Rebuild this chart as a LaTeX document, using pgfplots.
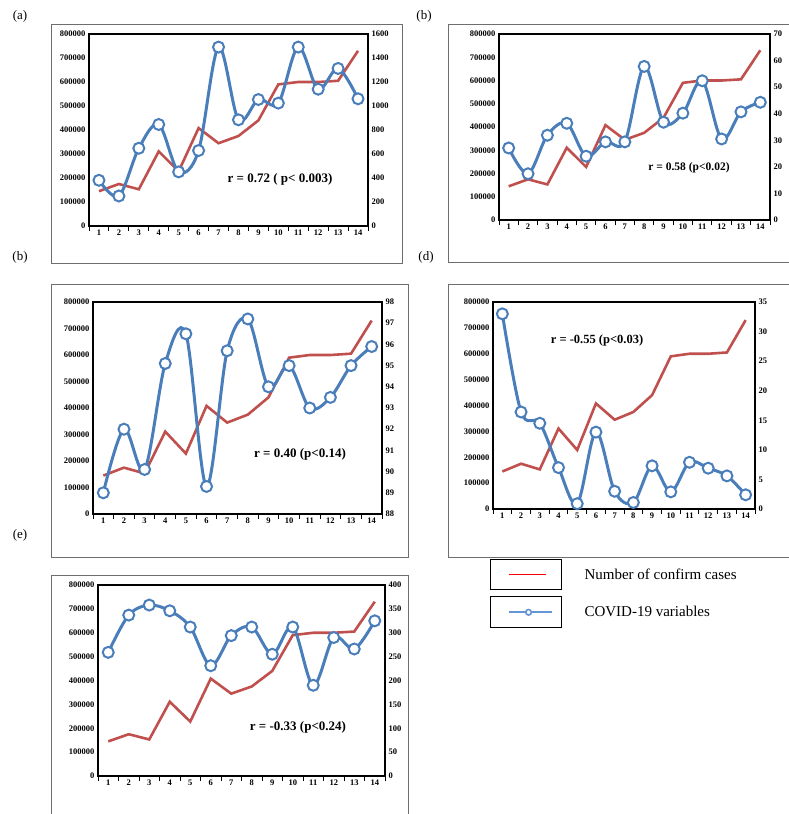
\documentclass[border=0pt]{standalone}
\usepackage{fontspec}
\setmainfont{Liberation Serif}
\usepackage{pgfplots}
\usepackage{pgfplotstable}
\pgfplotsset{compat=1.18}
\definecolor{cred}{RGB}{192,80,77}
\definecolor{cblue}{RGB}{74,126,187}
\definecolor{lblue}{RGB}{100,150,215}
\definecolor{framegray}{RGB}{110,110,110}
\pgfplotstableread{
x cases a b c d e
1 145000 381 27.1 89.0 33.0 259
2 175000 250 17.4 92.0 16.4 337
3 153000 648 31.9 90.1 14.5 358
4 311000 846 36.4 95.1 7.0 346
5 228000 451 24.0 96.5 0.9 312
6 408000 629 29.4 89.3 13.0 231
7 345000 1491 29.4 95.7 3.0 294
8 375000 885 57.8 97.2 1.1 312
9 440000 1054 36.8 94.0 7.3 255
10 590000 1024 40.2 95.0 2.9 312
11 600000 1491 52.4 93.0 7.9 190
12 600000 1140 30.5 93.5 6.9 290
13 605000 1313 40.7 95.0 5.6 266
14 730000 1060 44.3 95.9 2.4 325
}\data
\pgfplotsset{
  base/.style={scale only axis, xmin=0.5, xmax=14.5, clip=false,
    /pgf/number format/assume math mode=true,
    /pgf/number format/1000 sep={},
    tick label style={font=\fontsize{8.5}{9}\selectfont\bfseries},
    axis line style={line width=1.8pt, black},
    major tick length=0pt},
  leftax/.style={base, ymin=0, ymax=800000,
    ytick={0,100000,200000,300000,400000,500000,600000,700000,800000},
    scaled y ticks=false, yticklabel style={/pgf/number format/fixed},
    xtick={1,...,14}, xtick pos=bottom,
    minor xtick={0.5,1.5,...,14.5}, minor tick length=5pt, tick align=outside,
    minor x tick style={line width=1pt, black}},
  rightax/.style={base, axis y line*=right, axis x line=none},
  redl/.style={cred, line width=2.6pt, no markers},
  bluel/.style={cblue, line width=3pt, smooth, tension=0.55, mark=*, mark size=5.5pt,
    mark options={fill=white, draw=cblue, line width=2pt, solid}},
}
\tikzset{rtext/.style={font=\bfseries\fontsize{13}{13}\selectfont}}
\begin{document}
\begin{tikzpicture}
\useasboundingbox (0,0) rectangle (789pt,-814pt);
% frames
\draw[framegray, line width=1pt] (51pt,-24pt) rectangle (402pt,-263pt);
\draw[framegray, line width=1pt] (448pt,-24pt) rectangle (800pt,-262pt);
\draw[framegray, line width=1pt] (51pt,-284pt) rectangle (408pt,-557pt);
\draw[framegray, line width=1pt] (448pt,-284pt) rectangle (800pt,-557pt);
\draw[framegray, line width=1pt] (51pt,-575pt) rectangle (408pt,-830pt);
% panel labels
\node[font=\fontsize{13}{13}\selectfont] at (20pt,-16pt) {(a)};
\node[font=\fontsize{13}{13}\selectfont] at (424pt,-16pt) {(b)};
\node[font=\fontsize{13}{13}\selectfont] at (20pt,-257pt) {(b)};
\node[font=\fontsize{13}{13}\selectfont] at (426pt,-257pt) {(d)};
\node[font=\fontsize{13}{13}\selectfont] at (20pt,-535pt) {(e)};

% (a)
\begin{axis}[leftax, at={(89pt,-34pt)}, anchor=north west, width=279pt, height=192pt]
\addplot[redl] table[x=x,y=cases]{\data};
\end{axis}
\begin{axis}[rightax, at={(89pt,-34pt)}, anchor=north west, width=279pt, height=192pt,
  ymin=0, ymax=1600, ytick={0,200,...,1600}]
\addplot[bluel] table[x=x,y=a]{\data};
\end{axis}
\node[rtext] at (280pt,-179pt) {r = 0.72 ( p< 0.003)};

% (b)
\begin{axis}[leftax, at={(499pt,-34pt)}, anchor=north west, width=271pt, height=186pt]
\addplot[redl] table[x=x,y=cases]{\data};
\end{axis}
\begin{axis}[rightax, at={(499pt,-34pt)}, anchor=north west, width=271pt, height=186pt,
  ymin=0, ymax=70, ytick={0,10,...,70}]
\addplot[bluel] table[x=x,y=b]{\data};
\end{axis}
\node[rtext, font=\bfseries\fontsize{11.5}{12}\selectfont] at (689pt,-168pt) {r = 0.58 (p<0.02)};

% (c)
\begin{axis}[leftax, at={(93pt,-302pt)}, anchor=north west, width=289pt, height=212pt]
\addplot[redl] table[x=x,y=cases]{\data};
\end{axis}
\begin{axis}[rightax, at={(93pt,-302pt)}, anchor=north west, width=289pt, height=212pt,
  ymin=88, ymax=98, ytick={88,89,...,98}]
\addplot[bluel] table[x=x,y=c]{\data};
\end{axis}
\node[rtext] at (300pt,-454pt) {r = 0.40 (p<0.14)};

% (d)
\begin{axis}[leftax, at={(493pt,-302pt)}, anchor=north west, width=262pt, height=207pt,
  legend cell align=left,
  legend style={at={(-0.012,-0.242)}, anchor=north west, draw=none, fill=none,
    inner sep=0pt, row sep=6pt,
    nodes={font=\fontsize{15}{15}\selectfont, inner sep=2pt}}]
\addplot[redl, forget plot] table[x=x,y=cases]{\data};
\addlegendimage{legend image code/.code={
  \draw[black, line width=1pt] (0pt,-15pt) rectangle (71pt,15pt);
  \draw[red, line width=1pt] (18pt,0pt) -- (55pt,0pt);
  \path[draw=none, fill=none] (0pt,0pt) rectangle (92pt,1pt);}}
\addlegendentry{Number of confirm cases}
\addlegendimage{legend image code/.code={
  \draw[black, line width=1pt] (0pt,-15.5pt) rectangle (71pt,15.5pt);
  \draw[lblue, line width=1.6pt] (18pt,0pt) -- (61pt,0pt);
  \draw[lblue, line width=1.6pt, fill=white] (38pt,0pt) circle (2.8pt);
  \path[draw=none, fill=none] (0pt,0pt) rectangle (92pt,1pt);}}
\addlegendentry{COVID-19 variables}
\end{axis}
\begin{axis}[rightax, at={(493pt,-302pt)}, anchor=north west, width=262pt, height=207pt,
  ymin=0, ymax=35, ytick={0,5,...,35}]
\addplot[bluel] table[x=x,y=d]{\data};
\end{axis}
\node[rtext, font=\bfseries\fontsize{12.5}{13}\selectfont] at (597pt,-340pt) {r = -0.55 (p<0.03)};

% (e)
\begin{axis}[leftax, at={(98pt,-585pt)}, anchor=north west, width=287pt, height=191pt]
\addplot[redl] table[x=x,y=cases]{\data};
\end{axis}
\begin{axis}[rightax, at={(98pt,-585pt)}, anchor=north west, width=287pt, height=191pt,
  ymin=0, ymax=400, ytick={0,50,...,400}]
\addplot[bluel] table[x=x,y=e]{\data};
\end{axis}
\node[rtext] at (298pt,-727pt) {r = -0.33 (p<0.24)};
\end{tikzpicture}
\end{document}
